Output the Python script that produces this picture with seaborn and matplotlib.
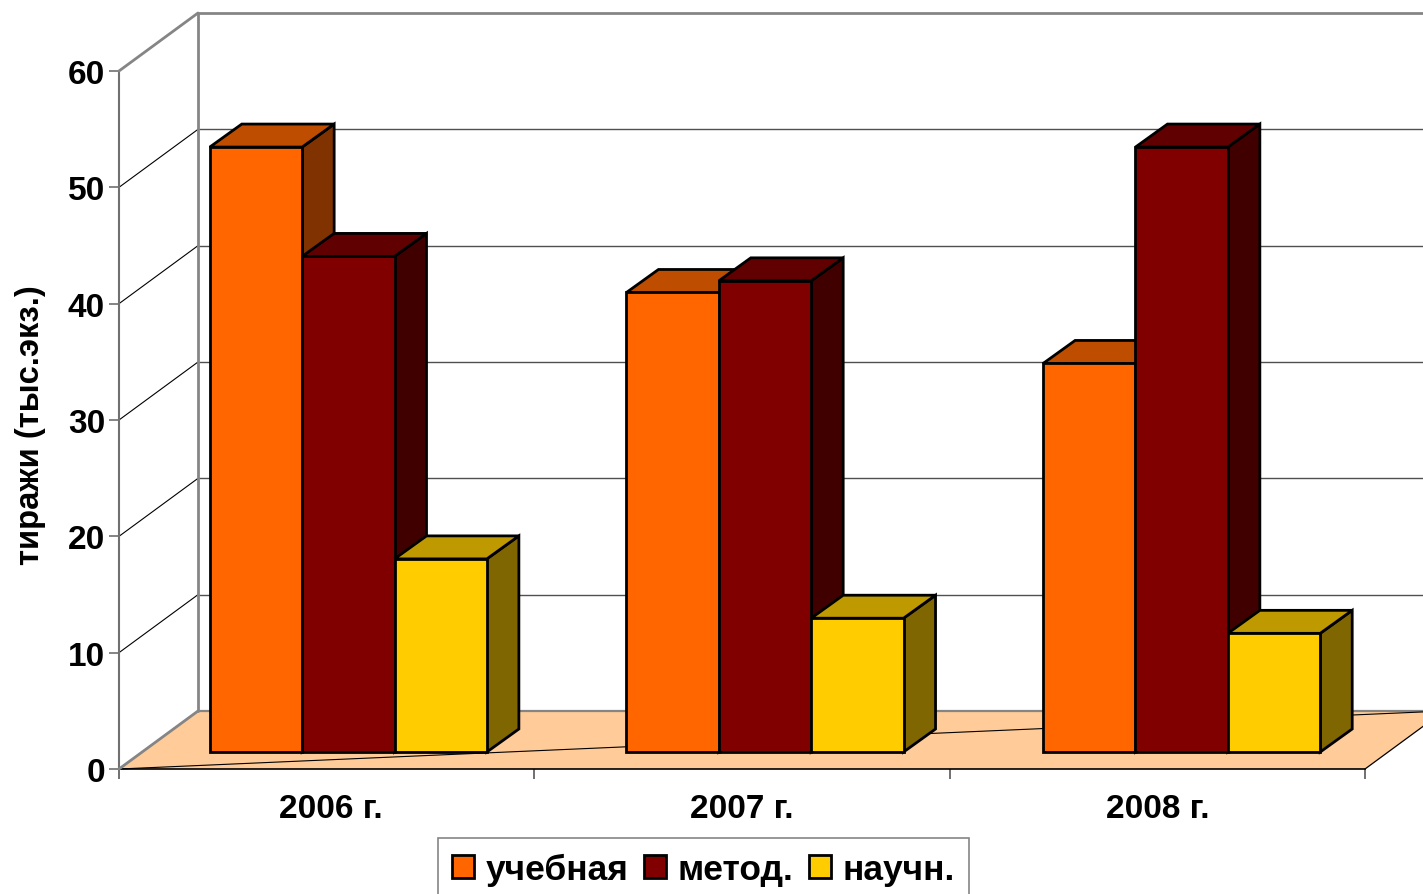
"""Pseudo-3D grouped bars: print runs by year and kind of literature"""

import pandas as pd
import matplotlib.pyplot as plt
from matplotlib.patches import Polygon, Patch
import seaborn as sns

years = ['2006 г.', '2007 г.', '2008 г.']
kinds = ['учебная', 'метод.', 'научн.']
uchebnaya = [52, 39.5, 33.4]
metod = [42.6, 40.5, 52]
nauchn = [16.6, 11.5, 10.2]
y_ticks = [0, 10, 20, 30, 40, 50, 60]

front_colors = ['#FF6600', '#800000', '#FFCC00']
top_colors = ['#BF4D00', '#600000', '#BF9900']
side_colors = ['#803300', '#400000', '#806600']

FIG_W, FIG_H = 1423, 895
GREY = '#858585'

df = pd.DataFrame({
    'year': years * 3,
    'kind': [k for k in kinds for _ in years],
    'value': uchebnaya + metod + nauchn,
})

sns.set_theme(style='white')
plt.rcParams['font.family'] = ['Liberation Sans', 'DejaVu Sans']
plt.rcParams['font.weight'] = 'bold'

fig = plt.figure(figsize=(FIG_W / 100, FIG_H / 100), dpi=100)


def axes_px(left, right, top, bottom):
    # axes rectangle given in image pixels
    return fig.add_axes([left / FIG_W, 1 - bottom / FIG_H,
                         (right - left) / FIG_W, (bottom - top) / FIG_H])


# front plane of the chart box: holds the ticks
ax = axes_px(119, 1365, 72, 770)
ax.set_facecolor('none')
ax.set_xlim(-0.5, 2.5)
ax.set_ylim(0, 60)

# box depth in data units of ax
box_dx = 79 / 1246 * 3
box_dy = 58 / 698 * 60
x0, x1 = ax.get_xlim()
far = x1 + box_dx + 0.2

# floor
ax.add_patch(Polygon([(x0, 0), (x1, 0), (x1 + box_dx, box_dy), (x0 + box_dx, box_dy)],
                     facecolor='#FFCC99', edgecolor='none', clip_on=False, zorder=1))
ax.plot([x1, x1 + box_dx], [0, box_dy], color='black', lw=0.9, clip_on=False, zorder=2)
ax.plot([x0, x1 + box_dx], [0, box_dy], color='black', lw=0.8, clip_on=False, zorder=2)
ax.plot([x0, x0 + box_dx], [0, box_dy], color=GREY, lw=2, clip_on=False, zorder=3)
ax.plot([x0 + box_dx, far], [box_dy, box_dy], color=GREY, lw=1.6, clip_on=False, zorder=1.5)

# walls and gridlines
for t in y_ticks[1:-1]:
    ax.plot([x0, x0 + box_dx], [t, t + box_dy], color='black', lw=0.8, clip_on=False, zorder=2)
    ax.plot([x0 + box_dx, far], [t + box_dy, t + box_dy], color='#505050', lw=1,
            clip_on=False, zorder=2)
ax.plot([x0, x0 + box_dx], [60, 60 + box_dy], color=GREY, lw=2, clip_on=False, zorder=3)
ax.plot([x0 + box_dx, x0 + box_dx], [box_dy, 60 + box_dy], color=GREY, lw=2, clip_on=False, zorder=3)
ax.plot([x0 + box_dx, far], [60 + box_dy, 60 + box_dy], color=GREY, lw=2, clip_on=False, zorder=3)

for side in ['top', 'right']:
    ax.spines[side].set_visible(False)
ax.spines['left'].set_color('#707070')
ax.spines['left'].set_linewidth(1.5)
ax.spines['bottom'].set_color('black')
ax.spines['bottom'].set_linewidth(1.2)

ax.set_yticks(y_ticks)
ax.set_xticks([0.01, 0.999, 2.0])
ax.set_xticklabels(years)
ax.set_xticks([-0.5, 0.5, 1.5, 2.5], minor=True)
ax.tick_params(axis='x', which='major', length=0, pad=17, labelsize=24, labelcolor='black')
ax.tick_params(axis='x', which='minor', length=7.5, width=1.4, color='#707070', bottom=True)
ax.tick_params(axis='y', length=7.5, width=1.2, color='#707070', left=True, pad=2.5,
               labelsize=24, labelcolor='black')
for lab in ax.get_xticklabels() + ax.get_yticklabels():
    lab.set_fontweight('bold')
fig.text(31 / FIG_W, 1 - 425 / FIG_H, 'тиражи (тыс.экз.)', rotation=90, ha='center', va='center',
         fontsize=23.6, fontweight='bold', color='black')

# bars stand inside the box, so they get their own shifted axes
ax_bars = axes_px(140, 1390, 55, 753)
ax_bars.set_zorder(ax.get_zorder() + 1)
sns.barplot(data=df, x='year', y='value', hue='kind', hue_order=kinds, order=years,
            palette=front_colors, width=0.665, gap=0, saturation=1,
            edgecolor='black', linewidth=2, legend=False, ax=ax_bars)
ax_bars.set_xlim(-0.5, 2.5)
ax_bars.set_ylim(0, 60)
ax_bars.axis('off')

bar_dx = 32 / 1250 * 3
bar_dy = 23 / 698 * 60
bars = sorted(ax_bars.patches, key=lambda p: p.get_x())
for i, bar in enumerate(bars):
    k = i % 3
    xl, w, h = bar.get_x(), bar.get_width(), bar.get_height()
    xr = xl + w
    bar.set_zorder(10 + i + 0.2)
    bar.set_clip_on(False)
    top = Polygon([(xl, h), (xr, h), (xr + bar_dx, h + bar_dy), (xl + bar_dx, h + bar_dy)],
                  facecolor=top_colors[k], edgecolor='black', lw=2, joinstyle='miter',
                  clip_on=False, zorder=10 + i)
    side = Polygon([(xr, 0), (xr + bar_dx, bar_dy), (xr + bar_dx, h + bar_dy), (xr, h)],
                   facecolor=side_colors[k], edgecolor='black', lw=2, joinstyle='miter',
                   clip_on=False, zorder=10 + i)
    ax_bars.add_patch(side)
    ax_bars.add_patch(top)

handles = [Patch(facecolor=c, edgecolor='black', linewidth=2) for c in front_colors]
leg = fig.legend(handles, kinds, ncol=3, loc='lower left',
                 bbox_to_anchor=(438 / FIG_W, -6 / FIG_H), borderaxespad=0,
                 fontsize=25.5, frameon=True, fancybox=False, edgecolor=GREY,
                 handlelength=0.62, handleheight=0.62, handletextpad=0.335,
                 columnspacing=0.43, borderpad=0.4, labelcolor='black')
leg.get_frame().set_linewidth(1.2)
leg.get_frame().set_alpha(1)
leg.set_zorder(30)

fig.savefig('out.png', dpi=100)
